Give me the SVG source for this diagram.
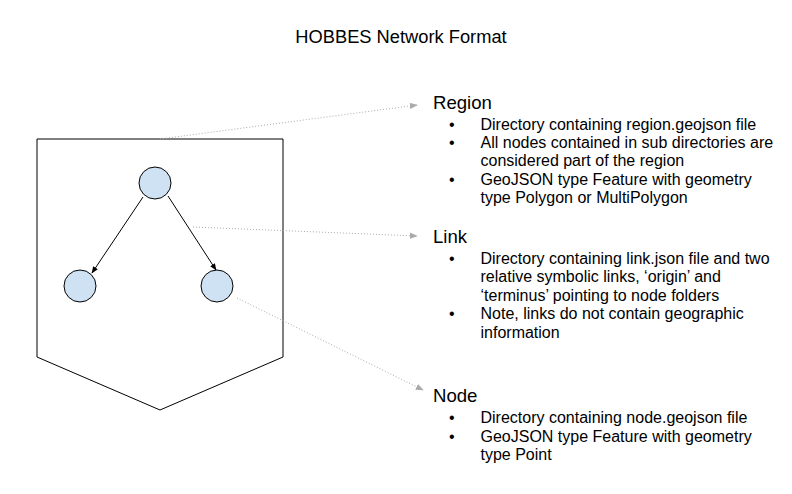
<svg xmlns="http://www.w3.org/2000/svg" width="792" height="494" viewBox="0 0 792 494">
<defs>
<style>
text{font-family:"Liberation Sans",Arial,sans-serif;fill:#000}
.title{font-size:18.3px}
.head{font-size:18.6px}
.item{font-size:16px}
.shape{fill:#fff;stroke:#000;stroke-width:1}
.node{fill:#cfe2f3;stroke:#000;stroke-width:1}
.arrow{stroke:#000;stroke-width:1;fill:none}
.dot{stroke:#aaa;stroke-width:1;stroke-dasharray:1 2;fill:none}
</style>
<marker id="ah" viewBox="0 0 10 10" refX="9" refY="5" markerWidth="7" markerHeight="7" markerUnits="userSpaceOnUse" orient="auto"><path d="M0,1 L10,5 L0,9 z" fill="#000"/></marker>
<marker id="gh" viewBox="0 0 10 10" refX="9" refY="5" markerWidth="8" markerHeight="8" markerUnits="userSpaceOnUse" orient="auto"><path d="M0,1 L10,5 L0,9 z" fill="#aaa"/></marker>
</defs>
<rect width="792" height="494" fill="#fff"/>
<text class="title" x="401" y="43" text-anchor="middle">HOBBES Network Format</text>
<g id="region">
<polygon class="shape" points="37,139 283,139 283,357 160,410 37,357"/>
</g>
<g id="node-top"><circle class="node" cx="155" cy="183" r="16"/></g>
<g id="node-left"><circle class="node" cx="80" cy="286" r="16"/></g>
<g id="node-right"><circle class="node" cx="217" cy="286" r="16"/></g>
<g id="connectors">
<line class="arrow" x1="143" y1="197" x2="92" y2="273" marker-end="url(#ah)"/>
<line class="arrow" x1="168" y1="196" x2="216" y2="270" marker-end="url(#ah)"/>
<line class="dot" x1="160" y1="139" x2="417" y2="105" marker-end="url(#gh)"/>
<line class="dot" x1="193" y1="227" x2="417" y2="236" marker-end="url(#gh)"/>
<line class="dot" x1="237" y1="298" x2="423" y2="390" marker-end="url(#gh)"/>
</g>
<g id="region-text">
<text class="head" x="433" y="108.5">Region</text>
<text class="item"><tspan x="449" y="129.5">•</tspan><tspan x="480.5" y="129.5">Directory containing region.geojson file</tspan></text>
<text class="item"><tspan x="449" y="147.9">•</tspan><tspan x="480.5" y="147.9">All nodes contained in sub directories are</tspan></text>
<text class="item" x="480.5" y="166.3">considered part of the region</text>
<text class="item"><tspan x="449" y="184.7">•</tspan><tspan x="480.5" y="184.7">GeoJSON type Feature with geometry</tspan></text>
<text class="item" x="480.5" y="203.1">type Polygon or MultiPolygon</text>
</g>
<g id="link-text">
<text class="head" x="433" y="242.5">Link</text>
<text class="item"><tspan x="449" y="264">•</tspan><tspan x="480.5" y="264">Directory containing link.json file and two</tspan></text>
<text class="item" x="480.5" y="282.4">relative symbolic links, ‘origin’ and</text>
<text class="item" x="480.5" y="300.8">‘terminus’ pointing to node folders</text>
<text class="item"><tspan x="449" y="319.2">•</tspan><tspan x="480.5" y="319.2">Note, links do not contain geographic</tspan></text>
<text class="item" x="480.5" y="337.6">information</text>
</g>
<g id="node-text">
<text class="head" x="433" y="402">Node</text>
<text class="item"><tspan x="449" y="423.3">•</tspan><tspan x="480.5" y="423.3">Directory containing node.geojson file</tspan></text>
<text class="item"><tspan x="449" y="441.7">•</tspan><tspan x="480.5" y="441.7">GeoJSON type Feature with geometry</tspan></text>
<text class="item" x="480.5" y="460.1">type Point</text>
</g>
</svg>
